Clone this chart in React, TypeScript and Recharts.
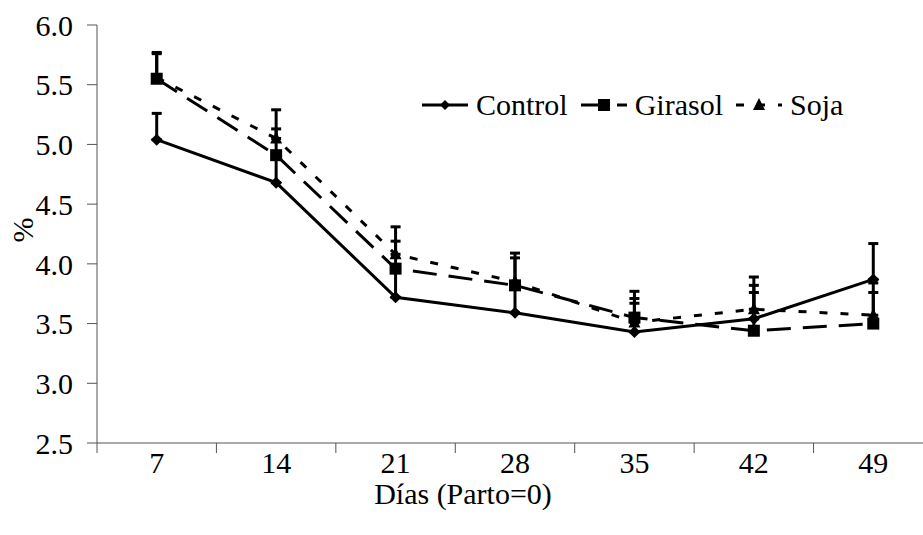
import { LineChart, Line, XAxis, YAxis, ErrorBar, Legend } from "recharts";

// days after calving
const days = [7, 14, 21, 28, 35, 42, 49];
// means (%)
const control = [5.04, 4.68, 3.72, 3.59, 3.43, 3.54, 3.87];
const girasol = [5.55, 4.91, 3.96, 3.82, 3.55, 3.44, 3.5];
const soja = [5.56, 5.05, 4.08, 3.85, 3.51, 3.62, 3.57];
// upper error (only drawn upward)
const controlErr = [0.22, 0.22, 0.23, 0.26, 0.24, 0.28, 0.3];
const girasolErr = [0.22, 0.22, 0.23, 0.23, 0.22, 0.32, 0.26];
const sojaErr = [0.2, 0.24, 0.23, 0.24, 0.2, 0.27, 0.27];
const yTicks = [2.5, 3.0, 3.5, 4.0, 4.5, 5.0, 5.5, 6.0];

const data = days.map((d, i) => ({
  day: d,
  control: control[i],
  girasol: girasol[i],
  soja: soja[i],
  controlErr: [0, controlErr[i]],
  girasolErr: [0, girasolErr[i]],
  sojaErr: [0, sojaErr[i]],
}));

const FONT = "Liberation Serif, DejaVu Serif, Times New Roman, Times, serif";
const FS = 30;
const W = 945;
const H = 535;
const LEFT = 97;
const RIGHT = 12;
const TOP = 25;
const AXIS_H = 92;
const AXIS_Y = H - AXIS_H;
const HALF = (W - RIGHT - LEFT) / 14; // half a category in px
const AXIS_COLOR = "#555";

const GIRASOL_DASH = "24 12";
const SOJA_DASH = "8 13";

const diamond = (cx: number, cy: number, r = 6) =>
  `${cx},${cy - r} ${cx + r},${cy} ${cx},${cy + r} ${cx - r},${cy}`;
const triangle = (cx: number, cy: number, r = 6) =>
  `${cx},${cy - r - 1} ${cx + r},${cy + r - 1} ${cx - r},${cy + r - 1}`;

const DiamondDot = (p: any) => (
  <polygon key={`d${p.index}`} points={diamond(p.cx, p.cy)} fill="#000" />
);
const SquareDot = (p: any) => (
  <rect key={`s${p.index}`} x={p.cx - 6} y={p.cy - 6} width={12} height={12} fill="#000" />
);
const TriangleDot = (p: any) => (
  <polygon key={`t${p.index}`} points={triangle(p.cx, p.cy)} fill="#000" />
);

const XTick = (p: any) => {
  const { x, y, payload } = p;
  return (
    <g>
      <line x1={x - HALF} x2={x - HALF} y1={AXIS_Y} y2={AXIS_Y + 10} stroke={AXIS_COLOR} />
      <text x={x} y={y} dy="0.71em" textAnchor="middle" fill="#000" style={{ fontSize: FS, fontFamily: FONT }}>
        {payload.value}
      </text>
    </g>
  );
};

const legendItems = [
  { name: "Control", dash: undefined as string | undefined, shape: "diamond" },
  { name: "Girasol", dash: GIRASOL_DASH, shape: "square" },
  { name: "Soja", dash: SOJA_DASH, shape: "triangle" },
];

const LegendIcon = ({ dash, shape }: { dash?: string; shape: string }) => (
  <svg width={46} height={20} style={{ display: "block" }}>
    <line x1={0} x2={46} y1={10} y2={10} stroke="#000" strokeWidth={3} strokeDasharray={dash} />
    {shape === "diamond" && <polygon points={diamond(23, 10, 5)} fill="#000" />}
    {shape === "square" && <rect x={17} y={4} width={12} height={12} fill="#000" />}
    {shape === "triangle" && <polygon points={triangle(23, 10, 6)} fill="#000" />}
  </svg>
);

const renderLegend = () => (
  <div style={{ display: "flex", alignItems: "center", fontFamily: FONT, fontSize: FS, color: "#000" }}>
    {legendItems.map((it) => (
      <div key={it.name} style={{ display: "flex", alignItems: "center", marginRight: 13 }}>
        <LegendIcon dash={it.dash} shape={it.shape} />
        <span style={{ marginLeft: 8, lineHeight: "34px", fontFamily: FONT }}>{it.name}</span>
      </div>
    ))}
  </div>
);

export default function App() {
  return (
    <div
      style={{
        position: "absolute",
        left: 0,
        top: 0,
        width: 923,
        height: 535,
        overflow: "hidden",
        background: "#fff",
        fontFamily: FONT,
      }}
    >
      <LineChart
        width={W}
        height={H}
        data={data}
        margin={{ top: TOP, right: RIGHT, left: 0, bottom: 0 }}
        style={{ fontFamily: FONT }}
      >
        <XAxis
          dataKey="day"
          type="number"
          domain={[3.5, 52.5]}
          ticks={days}
          interval={0}
          height={AXIS_H}
          tickLine={false}
          tickSize={0}
          tickMargin={9}
          stroke={AXIS_COLOR}
          tick={<XTick />}
          label={{
            content: () => (
              <text x={463} y={504} textAnchor="middle" fill="#000" style={{ fontSize: FS, fontFamily: FONT }}>
                Días (Parto=0)
              </text>
            ),
          }}
        />
        <YAxis
          type="number"
          domain={[2.5, 6]}
          ticks={yTicks}
          interval={0}
          width={LEFT}
          tickSize={10}
          tickMargin={14}
          stroke={AXIS_COLOR}
          tick={{ fill: "#000", fontSize: FS, style: { fontFamily: FONT } }}
          tickFormatter={(v: number) => v.toFixed(1)}
          label={{
            content: () => (
              <text
                x={22}
                y={230}
                dy="0.35em"
                textAnchor="middle"
                transform="rotate(-90, 22, 230)"
                fill="#000"
                style={{ fontSize: FS, fontFamily: FONT }}
              >
                %
              </text>
            ),
          }}
        />
        <Legend
          content={renderLegend}
          layout="horizontal"
          verticalAlign="middle"
          align="center"
          wrapperStyle={{ top: 88, left: 422, width: 500 }}
        />
        <Line
          dataKey="control"
          name="Control"
          stroke="#000"
          strokeWidth={3}
          dot={DiamondDot}
          activeDot={false}
          isAnimationActive={false}
        >
          <ErrorBar dataKey="controlErr" direction="y" width={5} stroke="#000" strokeWidth={3} />
        </Line>
        <Line
          dataKey="girasol"
          name="Girasol"
          stroke="#000"
          strokeWidth={3}
          strokeDasharray={GIRASOL_DASH}
          dot={SquareDot}
          activeDot={false}
          isAnimationActive={false}
        >
          <ErrorBar dataKey="girasolErr" direction="y" width={5} stroke="#000" strokeWidth={3} />
        </Line>
        <Line
          dataKey="soja"
          name="Soja"
          stroke="#000"
          strokeWidth={3}
          strokeDasharray={SOJA_DASH}
          dot={TriangleDot}
          activeDot={false}
          isAnimationActive={false}
        >
          <ErrorBar dataKey="sojaErr" direction="y" width={5} stroke="#000" strokeWidth={3} />
        </Line>
      </LineChart>
    </div>
  );
}
